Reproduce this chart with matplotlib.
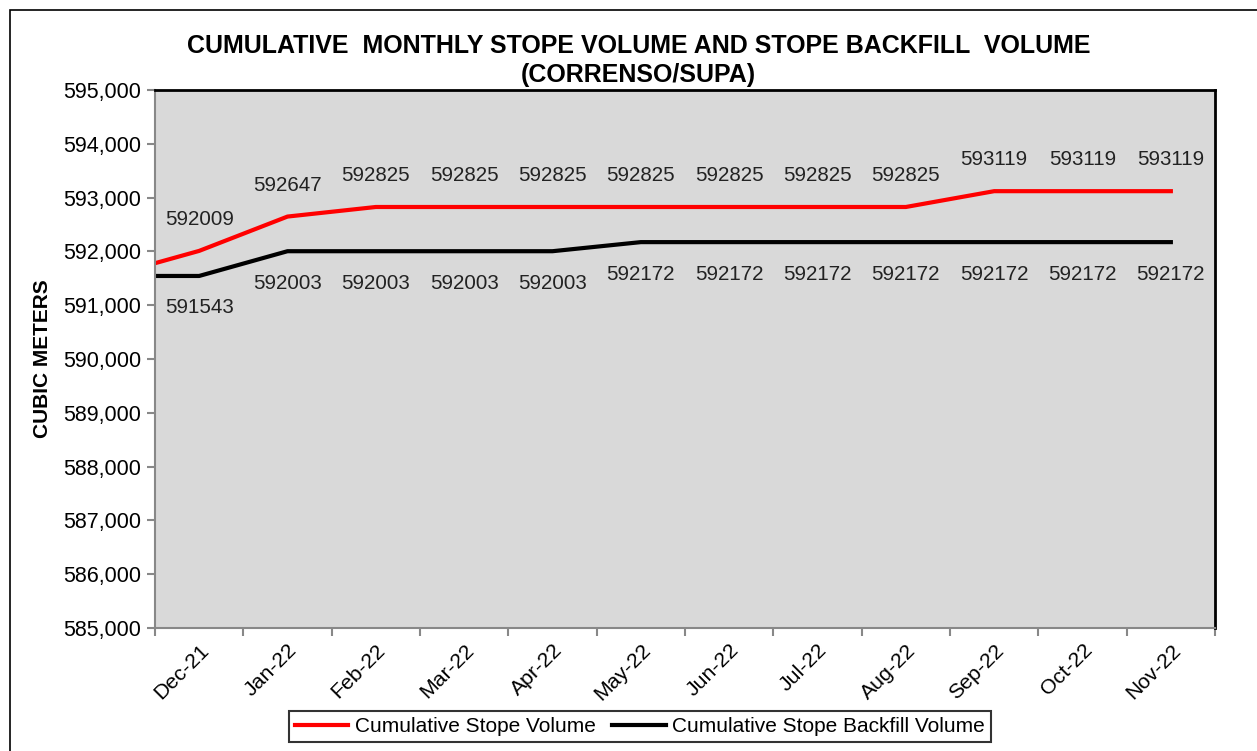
import matplotlib.pyplot as plt
from matplotlib.patches import Rectangle
from matplotlib.ticker import FuncFormatter, MultipleLocator

plt.rcParams['font.family'] = ['Liberation Sans', 'DejaVu Sans']

months = ['Dec-21', 'Jan-22', 'Feb-22', 'Mar-22', 'Apr-22', 'May-22',
          'Jun-22', 'Jul-22', 'Aug-22', 'Sep-22', 'Oct-22', 'Nov-22']
stope = [592009, 592647, 592825, 592825, 592825, 592825,
         592825, 592825, 592825, 593119, 593119, 593119]
backfill = [591543, 592003, 592003, 592003, 592003, 592172,
            592172, 592172, 592172, 592172, 592172, 592172]
# values where the lines enter at the left edge of the plot
stope_start = 591780
backfill_start = 591543

fig = plt.figure(figsize=(12.57, 7.51), dpi=100)
ax = fig.add_axes([0.1233, 0.1638, 0.8433, 0.7164])
ax.set_facecolor('#d9d9d9')

xs = [-0.5] + list(range(len(months)))
ax.plot(xs, [stope_start] + stope, color='red', lw=3, label='Cumulative Stope Volume')
ax.plot(xs, [backfill_start] + backfill, color='black', lw=3,
        label='Cumulative Stope Backfill Volume')

for i, (s, b) in enumerate(zip(stope, backfill)):
    ax.annotate(str(s), (i, s), xytext=(0, 22.5), textcoords='offset points',
                ha='center', va='center', fontsize=14.8, color='#222222')
    ax.annotate(str(b), (i, b), xytext=(0, -23), textcoords='offset points',
                ha='center', va='center', fontsize=14.8, color='#222222')

ax.set_xlim(-0.5, len(months) - 0.5)
ax.set_ylim(585000, 595000)
ax.yaxis.set_major_locator(MultipleLocator(1000))
ax.yaxis.set_major_formatter(FuncFormatter(lambda v, p: f'{int(v):,}'))
ax.set_xticks(range(len(months)))
ax.set_xticklabels(months, rotation=45, ha='right', rotation_mode='anchor', fontsize=15.3)
ax.set_xticks([i - 0.5 for i in range(len(months) + 1)], minor=True)
ax.tick_params(axis='x', which='major', length=0, pad=9)
ax.tick_params(axis='x', which='minor', length=6, width=1.5, color='#888888')
ax.tick_params(axis='y', length=6, width=1.5, color='#888888', labelsize=15.5, pad=4)

for side in ['left', 'bottom']:
    ax.spines[side].set_color('#888888')
    ax.spines[side].set_linewidth(1.5)
for side in ['top', 'right']:
    ax.spines[side].set_color('black')
    ax.spines[side].set_linewidth(2)

ax.set_ylabel('CUBIC METERS', fontsize=15, fontweight='bold', labelpad=8)
fig.text(0.508, 0.939, 'CUMULATIVE  MONTHLY STOPE VOLUME AND STOPE BACKFILL  VOLUME',
         ha='center', va='center', fontsize=18, fontweight='bold')
fig.text(0.508, 0.900, '(CORRENSO/SUPA)', ha='center', va='center',
         fontsize=18, fontweight='bold')

leg = ax.legend(loc='center', bbox_to_anchor=(640 / 1257, 1 - 726.5 / 751),
                bbox_transform=fig.transFigure, ncol=2, frameon=True, fancybox=False,
                fontsize=15, handlelength=2.55, handletextpad=0.33, columnspacing=0.8,
                borderpad=0.3)
leg.get_frame().set_edgecolor('black')
leg.get_frame().set_linewidth(1.5)

fig.patches.append(Rectangle((0.008, -0.1), 1.2, 1.087, transform=fig.transFigure,
                             fill=False, edgecolor='black', lw=1.2))

fig.savefig('out.png', dpi=100)
